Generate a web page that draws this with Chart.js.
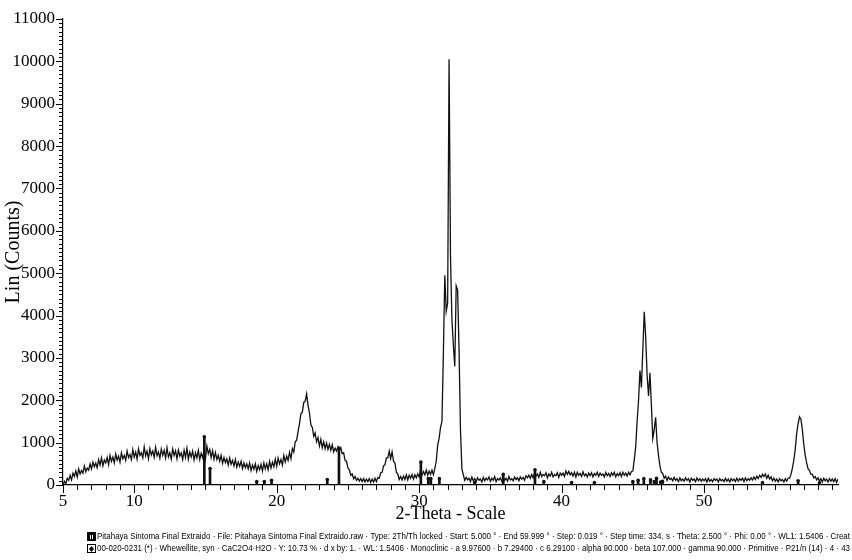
<!DOCTYPE html>
<html>
<head>
<meta charset="utf-8">
<script src="https://cdn.jsdelivr.net/npm/chart.js@4.4.1/dist/chart.umd.min.js"></script>
<style>
  html, body { margin: 0; padding: 0; background: #fff; }
  #xrd { display: block; }
</style>
</head>
<body>
<canvas id="xrd" width="852" height="560"></canvas>
<script>
// scan: 2-theta from 5.0 in steps of 0.1
const scanStart = 5.0;
const scanStep = 0.1;
const counts = [
  0, 90, 30, 160, 110, 230, 120, 280, 200, 330,
  190, 380, 260, 340, 280, 450, 310, 400, 350, 500,
  380, 540, 430, 520, 410, 600, 470, 640, 450, 590,
  520, 650, 480, 700, 560, 660, 520, 730, 590, 680,
  540, 760, 620, 700, 580, 800, 650, 720, 600, 840,
  660, 780, 610, 850, 700, 760, 640, 900, 690, 800,
  620, 860, 710, 800, 650, 890, 690, 780, 630, 850,
  700, 820, 640, 880, 660, 760, 610, 850, 700, 810,
  620, 830, 680, 760, 600, 820, 650, 870, 610, 780,
  660, 800, 590, 760, 640, 820, 600, 750, 650, 800,
  620, 920, 740, 840, 650, 810, 610, 770, 600, 700,
  560, 700, 510, 650, 530, 620, 470, 640, 490, 580,
  450, 600, 420, 540, 440, 560, 390, 520, 410, 500,
  380, 520, 340, 470, 370, 500, 320, 460, 360, 490,
  330, 520, 380, 500, 360, 560, 400, 540, 430, 610,
  440, 640, 500, 600, 470, 700, 540, 680, 580, 770,
  620, 860, 780, 1020, 1060, 1260, 1450, 1680, 1720, 1950,
  1980, 2150, 1880, 1700, 1420, 1360, 1150, 1230, 1020, 1120,
  920, 1080, 880, 1020, 860, 990, 840, 960, 820, 950,
  780, 870, 800, 900, 820, 880, 740, 760, 580, 560,
  400, 360, 230, 260, 150, 200, 110, 160, 90, 150,
  80, 150, 70, 140, 80, 150, 60, 140, 70, 160,
  80, 180, 160, 290, 300, 450, 480, 640, 640, 800,
  620, 780, 560, 520, 300, 260, 130, 200, 120, 210,
  130, 240, 120, 230, 160, 250, 140, 240, 170, 260,
  190, 350, 230, 320, 240, 350, 230, 330, 250, 350,
  240, 390, 560, 940, 1100, 1360, 1500, 3100, 4950, 4100,
  4300, 10050, 5400, 3900, 3300, 2800, 4700, 4600, 3200, 1300,
  380, 240, 110, 180, 120, 160, 80, 190, 100, 150,
  80, 170, 110, 140, 70, 180, 100, 160, 120, 190,
  90, 160, 110, 200, 80, 150, 120, 170, 90, 190,
  110, 160, 90, 200, 120, 150, 100, 190, 130, 170,
  100, 190, 140, 180, 110, 220, 170, 230, 160, 250,
  170, 280, 210, 260, 180, 300, 200, 250, 220, 290,
  170, 260, 210, 300, 190, 250, 220, 290, 180, 280,
  230, 280, 200, 330, 250, 320, 240, 290, 210, 300,
  190, 300, 230, 270, 200, 310, 220, 260, 190, 280,
  220, 290, 190, 270, 230, 300, 200, 280, 230, 260,
  190, 300, 220, 270, 200, 290, 230, 300, 190, 270,
  220, 290, 200, 300, 230, 280, 210, 300, 240, 320,
  330, 600, 900, 1500, 2000, 2700, 2300, 3200, 4090, 3500,
  2600, 2100, 2650, 1900, 1100, 1300, 1600, 1000, 700, 450,
  300, 270, 160, 210, 110, 190, 130, 160, 100, 180,
  110, 150, 80, 170, 100, 140, 90, 170, 110, 150,
  70, 160, 110, 140, 80, 170, 100, 150, 90, 140,
  100, 150, 70, 160, 90, 130, 80, 150, 110, 140,
  70, 150, 100, 130, 80, 160, 90, 140, 70, 150,
  100, 140, 80, 160, 90, 150, 110, 160, 80, 170,
  100, 150, 110, 170, 120, 190, 130, 210, 150, 230,
  180, 250, 200, 260, 160, 230, 140, 190, 100, 160,
  90, 140, 70, 150, 100, 130, 70, 150, 90, 160,
  160, 250, 400, 590, 850, 1220, 1450, 1610, 1550, 1300,
  950, 700, 520, 380, 340, 250, 250, 170, 200, 120,
  170, 90, 150, 70, 160, 100, 140, 70, 150, 90,
  140, 80, 150, 60, 140
];

// Whewellite reference lines (00-020-0231)
const stickPos = [14.92, 15.32, 18.6, 19.13, 19.64, 23.55, 24.37, 30.12, 30.64, 30.82, 31.42,
  33.9, 35.9, 38.13, 38.75, 40.7, 42.3, 45.0, 45.37, 45.77, 46.24, 46.5, 46.66, 46.94, 47.08,
  54.1, 56.6, 58.1];
const stickCounts = [1140, 390, 80, 80, 110, 130, 870, 540, 150, 150, 150,
  60, 250, 360, 80, 60, 60, 80, 110, 150, 120, 80, 160, 70, 90,
  60, 100, 50];

const xMin = 5, xMax = 59.4, xMinor = 1, xLabelled = [5, 10, 20, 30, 40, 50];
const yMin = 0, yMax = 11000, yMajor = 1000, yMinor = 100;

const footerLines = [
  'Pitahaya Sintoma Final Extraido · File: Pitahaya Sintoma Final Extraido.raw · Type: 2Th/Th locked · Start: 5.000 ° · End 59.999 ° · Step: 0.019 ° · Step time: 334. s · Theta: 2.500 ° · Phi: 0.00 ° · WL1: 1.5406 · Creat',
  '00-020-0231 (*) · Whewellite, syn · CaC2O4·H2O · Y: 10.73 % · d x by: 1. · WL: 1.5406 · Monoclinic · a 9.97600 · b 7.29400 · c 6.29100 · alpha 90.000 · beta 107.000 · gamma 90.000 · Primitive · P21/n (14) · 4 · 43'
];

const scan = counts.map((c, i) => ({ x: +(scanStart + i * scanStep).toFixed(2), y: c }));
const sticks = stickPos.map((p, i) => ({ x: p, y: stickCounts[i] }));

const serif = 'Liberation Serif, Times New Roman, serif';

const tickMarks = {
  id: 'tickMarks',
  afterDraw(chart) {
    const { ctx, chartArea, scales: { x, y } } = chart;
    ctx.save();
    ctx.strokeStyle = '#000';
    ctx.lineWidth = 1;
    ctx.beginPath();
    for (let v = xMin; v <= xMax; v += xMinor) {
      const px = Math.round(x.getPixelForValue(v)) + 0.5;
      const len = xLabelled.includes(v) ? 8 : 5;
      ctx.moveTo(px, chartArea.bottom);
      ctx.lineTo(px, chartArea.bottom + len);
    }
    for (let v = yMin; v <= yMax; v += yMinor) {
      const py = Math.round(y.getPixelForValue(v)) + 0.5;
      const len = v % yMajor === 0 ? 7 : 4;
      ctx.moveTo(chartArea.left - len, py);
      ctx.lineTo(chartArea.left, py);
    }
    ctx.stroke();

    // footer with the scan and phase descriptions
    ctx.font = '9px Liberation Sans, Arial, sans-serif';
    ctx.fillStyle = '#000';
    ctx.textBaseline = 'middle';
    footerLines.forEach((line, i) => {
      const ty = 537 + i * 12;
      ctx.fillText(line, 97, ty, 852 - 99);
      ctx.strokeRect(87.5, ty - 4.5, 8, 8);
    });
    ctx.fillRect(88, 533, 7, 7);
    ctx.fillStyle = '#fff';
    ctx.fillRect(90, 535, 1, 4);
    ctx.fillRect(92, 535, 1, 4);
    ctx.fillStyle = '#000';
    ctx.beginPath();
    ctx.moveTo(91.5, 546); ctx.lineTo(94, 549); ctx.lineTo(91.5, 552); ctx.lineTo(89, 549);
    ctx.closePath();
    ctx.fill();
    ctx.restore();
  }
};

new Chart(document.getElementById('xrd'), {
  type: 'line',
  data: {
    datasets: [
      {
        type: 'bar',
        data: sticks,
        backgroundColor: '#111',
        barThickness: 2,
        order: 1
      },
      {
        type: 'scatter',
        data: sticks,
        pointRadius: 1.8,
        pointBackgroundColor: '#111',
        pointBorderWidth: 0,
        order: 0
      },
      {
        data: scan,
        borderColor: '#111',
        borderWidth: 1.3,
        pointRadius: 0,
        tension: 0,
        fill: false,
        order: 2
      }
    ]
  },
  options: {
    responsive: false,
    animation: false,
    devicePixelRatio: 1,
    layout: { padding: { left: 0, right: 14, top: 19, bottom: 35 } },
    plugins: { legend: { display: false }, tooltip: { enabled: false } },
    scales: {
      x: {
        type: 'linear',
        min: xMin,
        max: xMax,
        offset: false,
        grid: { display: false, drawTicks: false },
        border: { display: true, color: '#000', width: 1.2 },
        ticks: {
          stepSize: xMinor,
          autoSkip: false,
          includeBounds: false,
          maxRotation: 0,
          padding: 6,
          color: '#000',
          font: { family: serif, size: 17 },
          callback: (v) => (xLabelled.includes(v) ? String(v) : '')
        },
        title: {
          display: true,
          text: '2-Theta - Scale',
          color: '#000',
          font: { family: serif, size: 18 },
          padding: { top: 3, bottom: 0 }
        },
        afterFit: (s) => { s.height = 40; }
      },
      y: {
        min: yMin,
        max: yMax,
        grid: { display: false, drawTicks: false },
        border: { display: true, color: '#000', width: 1.2 },
        ticks: {
          stepSize: yMajor,
          padding: 8,
          color: '#000',
          font: { family: serif, size: 17 },
          callback: (v) => String(v)
        },
        title: {
          display: true,
          text: 'Lin (Counts)',
          color: '#000',
          font: { family: serif, size: 20 },
          padding: { top: 2, bottom: 0 }
        },
        afterFit: (s) => { s.width = 63; }
      }
    }
  },
  plugins: [tickMarks]
});
</script>
</body>
</html>
